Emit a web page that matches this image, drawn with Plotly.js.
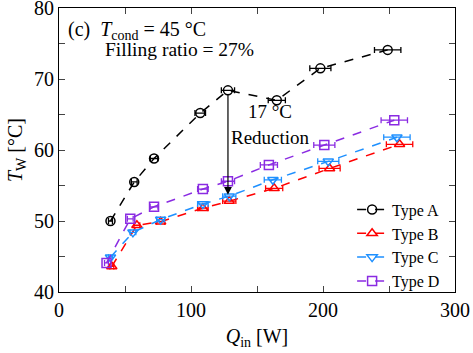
<!DOCTYPE html>
<html><head><meta charset="utf-8">
<script src="https://cdn.plot.ly/plotly-3.0.1.min.js"></script>
<style>html,body{margin:0;padding:0;background:#fff}#c{width:473px;height:353px}</style>
</head><body><div id="c"></div>
<script>
const qA = [39, 57, 72, 107, 128, 165, 198, 249];
const tA = [50.0, 55.5, 58.8, 65.2, 68.4, 67.0, 71.5, 74.1];
const eA = [1.5, 2.2, 2.8, 4, 5, 6.5, 8, 10];
const qB = [40, 59, 77, 109, 129, 163, 205, 258];
const tB = [43.6, 49.4, 49.9, 51.8, 52.8, 54.6, 57.4, 60.8];
const eB = [1.5, 2.2, 3, 4, 5, 6.5, 8, 10];
const qC = [39, 56, 77, 109, 129, 162, 204, 256];
const tC = [44.9, 48.4, 50.2, 52.4, 53.5, 55.8, 58.4, 61.8];
const eC = [1.5, 2.2, 3, 4, 5, 6.5, 8, 10];
const qD = [36, 54, 72, 109, 128, 159, 201, 254];
const tD = [44.1, 50.3, 52.0, 54.5, 55.6, 57.9, 60.7, 64.2];
const eD = [1.5, 2.2, 3, 4, 5, 6.5, 8, 10];
const names = ['Type A', 'Type B', 'Type C', 'Type D'];
const colors = ['#000000', '#ff0000', '#1e90ff', '#8a2be2'];
const symbols = ['circle-open', 'triangle-up-open', 'triangle-down-open', 'square-open'];
const xs = [qA, qB, qC, qD], ys = [tA, tB, tC, tD], es = [eA, eB, eC, eD];

const font = '"Times New Roman", "Liberation Serif", serif';
const traces = xs.map((x, i) => ({
  x: x, y: ys[i], name: names[i], type: 'scatter', mode: 'lines+markers',
  line: {color: colors[i], dash: 'dash', width: 1.5},
  marker: {symbol: symbols[i], size: 9, color: colors[i], line: {color: colors[i], width: 1.5}},
  error_x: {type: 'data', array: es[i], visible: true, color: colors[i], thickness: 1.3, width: 3}
}));

const layout = {
  width: 473, height: 353,
  margin: {l: 59, r: 18, t: 8, b: 61},
  paper_bgcolor: '#fff', plot_bgcolor: '#fff',
  font: {family: font, size: 20, color: '#000'},
  showlegend: true,
  legend: {x: 0.975, xanchor: 'right', y: 0.35, yanchor: 'top', bgcolor: 'rgba(0,0,0,0)',
           font: {family: font, size: 16}, tracegroupgap: 0, itemwidth: 30},
  xaxis: {range: [0, 300], tickvals: [0, 50, 100, 150, 200, 250, 300], ticktext: ['0', '', '100', '', '200', '', '300'],
          tickfont: {family: font, size: 20},
          ticks: 'inside', ticklen: 6, tickwidth: 1, showgrid: false, zeroline: false, ticklabeloverflow: 'allow',
          showline: true, linecolor: '#000', linewidth: 1, mirror: 'allticks',
          title: {text: '<i>Q</i><sub>in</sub> [W]', font: {family: font, size: 20}, standoff: 8}},
  yaxis: {range: [40, 80], tickvals: [40, 45, 50, 55, 60, 65, 70, 75, 80], ticktext: ['40', '', '50', '', '60', '', '70', '', '80'],
          tickfont: {family: font, size: 20},
          ticks: 'inside', ticklen: 6, tickwidth: 1, showgrid: false, zeroline: false, ticklabeloverflow: 'allow',
          showline: true, linecolor: '#000', linewidth: 1, mirror: 'allticks',
          title: {text: '<i>T</i><sub>W</sub> [°C]', font: {family: font, size: 20}, standoff: 6}},
  annotations: [
    {x: 128, y: 53.7, ax: 128, ay: 68.0, xref: 'x', yref: 'y', axref: 'x', ayref: 'y',
     showarrow: true, arrowhead: 2, arrowsize: 1.3, arrowwidth: 1.2, arrowcolor: '#000', text: ''},
    {x: 160, y: 65.4, xref: 'x', yref: 'y', text: '17 °C', showarrow: false, font: {family: font, size: 19}},
    {x: 160, y: 61.7, xref: 'x', yref: 'y', text: 'Reduction', showarrow: false, font: {family: font, size: 19}},
    {x: 0.197, y: 0.92, xref: 'paper', yref: 'paper', xanchor: 'center', yanchor: 'middle', showarrow: false,
     font: {family: font, size: 20},
     text: '(c)  <i>T</i><sub>cond</sub> = 45 °C'},
    {x: 0.304, y: 0.855, xref: 'paper', yref: 'paper', xanchor: 'center', yanchor: 'middle', showarrow: false,
     font: {family: font, size: 19.5},
     text: 'Filling ratio = 27%'}
  ]
};
Plotly.newPlot('c', traces, layout, {staticPlot: true, displayModeBar: false});
</script></body></html>
